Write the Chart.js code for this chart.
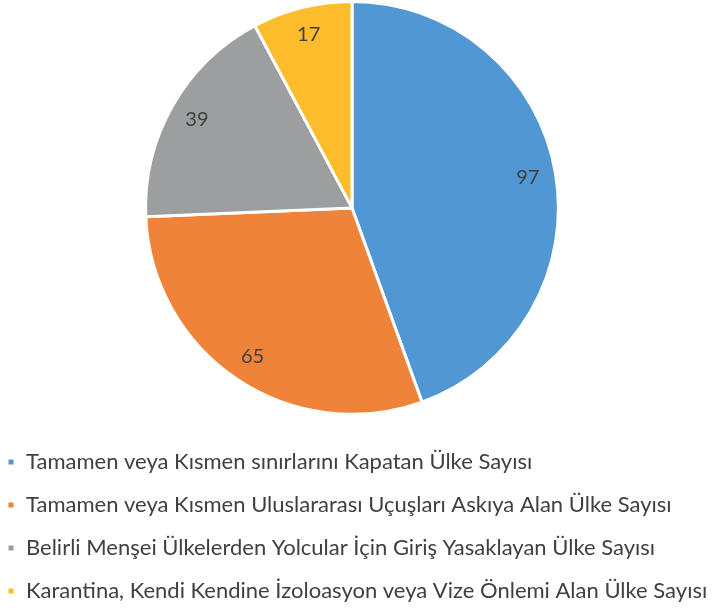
<!DOCTYPE html>
<html>
<head>
<meta charset="utf-8">
<script src="https://cdn.jsdelivr.net/npm/chart.js@4/dist/chart.umd.min.js"></script>
<style>
html,body{margin:0;padding:0;background:#fff;}
#wrap{width:712px;height:610px;position:relative;overflow:hidden;}
#c{position:absolute;left:-14px;top:0;}
</style>
</head>
<body>
<div id="wrap"><canvas id="c" width="740" height="610"></canvas></div>
<script>
const categories = [
  "Tamamen veya Kısmen sınırlarını Kapatan Ülke Sayısı",
  "Tamamen veya Kısmen Uluslararası Uçuşları Askıya Alan Ülke Sayısı",
  "Belirli Menşei Ülkelerden Yolcular İçin Giriş Yasaklayan Ülke Sayısı",
  "Karantina, Kendi Kendine İzoloasyon veya Vize Önlemi Alan Ülke Sayısı"
];
const values = [97, 65, 39, 17];
const colors = ["#5097D3", "#EF8339", "#9C9E9F", "#FDBC2B"];

const FONT = "Lato, 'Open Sans', sans-serif";

const labelPlugin = {
  id: 'sliceLabels',
  afterDatasetsDraw(chart) {
    const ctx = chart.ctx;
    const meta = chart.getDatasetMeta(0);
    ctx.save();
    ctx.font = "20px " + FONT;
    ctx.fillStyle = "#404040";
    ctx.textAlign = "center";
    ctx.textBaseline = "middle";
    meta.data.forEach((arc, i) => {
      const p = arc.getProps(['x','y','startAngle','endAngle','outerRadius'], true);
      const mid = (p.startAngle + p.endAngle) / 2;
      const r = p.outerRadius * 0.865;
      ctx.fillText(String(values[i]), p.x + Math.cos(mid) * r, p.y + Math.sin(mid) * r);
    });
    ctx.restore();
  }
};

new Chart(document.getElementById('c'), {
  type: 'pie',
  data: {
    labels: categories,
    datasets: [{
      data: values,
      backgroundColor: colors,
      borderColor: '#ffffff',
      borderWidth: 3
    }]
  },
  options: {
    responsive: false,
    animation: false,
    layout: { padding: { left: 0, right: 8, top: 0, bottom: -2 } },
    plugins: {
      tooltip: { enabled: false },
      legend: {
        position: 'bottom',
        align: 'start',
        title: {
          display: true,
          text: '',
          padding: { top: 0, bottom: 13 },
          font: { size: 1 }
        },
        labels: {
          boxWidth: 8,
          boxHeight: 8,
          padding: 21,
          color: '#404040',
          font: { family: FONT, size: 22 }
        }
      }
    }
  },
  plugins: [labelPlugin]
});
</script>
</body>
</html>
